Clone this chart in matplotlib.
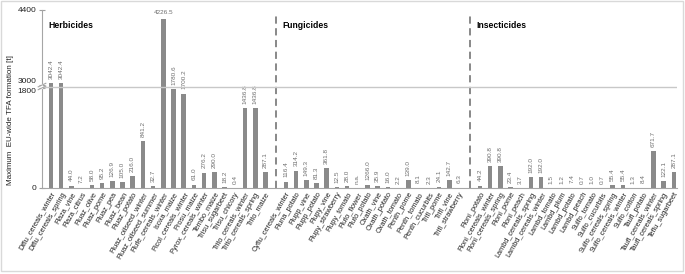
import numpy as np
import matplotlib.pyplot as plt
from matplotlib.patches import Rectangle

plt.rcParams['font.family'] = ['Liberation Sans', 'DejaVu Sans']

# data
herb_names = ['Diflu_cereals_winter', 'Diflu_cereals_spring', 'Flaza_vine', 'Flaza_citrus',
              'Fluaz_olive', 'Fluaz_pome', 'Fluaz_pea', 'Fluaz_bean', 'Fluaz_potato',
              'Fluaz_oilseed_winter', 'Fluaz_oilseed_summer', 'Flufe_cereals_winter',
              'Isoxa_maize', 'Picol_cereals_winter', 'Prosu_maize', 'Pyrox_cereals_winter',
              'Tembo_maize', 'Trisu_sugarbeet', 'Trisu_chicory', 'Trito_cereals_winter',
              'Trito_cereals_spring', 'Trito_maize']
herb_values = [3042.4, 3042.4, 44.0, 7.2, 58.0, 95.2, 126.9, 105.0, 216.0, 841.2, 32.7,
               4226.5, 1780.6, 1700.2, 61.0, 276.2, 290.0, 18.2, 0.4, 1436.8, 1436.8, 287.1]

fung_names = ['Cyflu_cereals_winter', 'Fluna_potato', 'Flupp_vine', 'Flupp_potato',
              'Flupy_vine', 'Flupy_strawberry', 'Flupy_tomato', 'Fluto_flower',
              'Fluto_potato', 'Oxath_vine', 'Oxath_potato', 'Oxath_tomato', 'Penth_pome',
              'Penth_tomato', 'Penth_cucurbits', 'Trifl_pome', 'Trifl_vine', 'Trifl_strawberry']
fung_values = [116.4, 314.2, 149.3, 81.3, 361.8, 12.5, 28.0, 0.0, 60.0, 35.9, 16.0, 2.2,
               139.0, 8.1, 2.3, 24.1, 142.7, 6.3]

ins_names = ['Floni_potato', 'Floni_cereals_winter', 'Floni_cereals_spring', 'Floni_pome',
             'Floni_peach', 'Lambd_cereals_spring', 'Lambd_cereals_winter', 'Lambd_tomato',
             'Lambd_plum', 'Lambd_potato', 'Lambd_peach', 'Sulfo_tomato', 'Sulfo_cucurbits',
             'Sulfo_cereals_spring', 'Sulfo_cereals_winter', 'Sulfo_cotton', 'Taufl_potato',
             'Taufl_cereals_winter', 'Taufl_cereals_spring', 'Teflu_sugarbeet']
ins_values = [44.2, 390.8, 390.8, 23.4, 3.7, 192.0, 192.0, 1.5, 1.2, 7.4, 0.7, 1.0, 0.7,
              55.4, 55.4, 1.3, 8.4, 671.7, 122.1, 287.1]

# labels that differ from the bar value as printed on the original
label_override = {'Fluto_flower': 'n.a.', 'Fluto_potato': '1266.0'}

groups = ['Herbicides', 'Fungicides', 'Insecticides']
ytick_vals = [0, 1800, 3000, 4400]


# broken y axis: 0-1800 and 3000-4400 with a small gap
def fwd(v):
    v = np.asarray(v, dtype=float)
    return np.where(v <= 1800, v / 18.0,
                    np.where(v <= 3000, 100 + (v - 1800) / 400.0,
                             103 + (v - 3000) * 75.0 / 1400.0))


def inv(p):
    p = np.asarray(p, dtype=float)
    return np.where(p <= 100, p * 18.0,
                    np.where(p <= 103, 1800 + (p - 100) * 400.0,
                             3000 + (p - 103) * 1400.0 / 75.0))


names = herb_names + [''] + fung_names + [''] + ins_names
values = herb_values + [None] + fung_values + [None] + ins_values
xpos = np.arange(len(names))
bar_x = [x for x, v in zip(xpos, values) if v is not None]
bar_v = [v for v in values if v is not None]
bar_n = [n for n, v in zip(names, values) if v is not None]

fig = plt.figure(figsize=(6.85, 2.74), dpi=100)
ax = fig.add_axes([42 / 685, 1 - 188 / 274, 635 / 685, 178 / 274])
ax.set_yscale('function', functions=(fwd, inv))

ax.bar(bar_x, bar_v, width=0.45, color='#8a8a8a', zorder=2)

for x, v, n in zip(bar_x, bar_v, bar_n):
    txt = label_override.get(n, f'{v:.1f}')
    if v > 4000:
        ax.annotate(txt, (x, v), xytext=(0, 3), textcoords='offset points',
                    ha='center', va='bottom', fontsize=4.6, color='#6e6e6e')
    else:
        ax.annotate(txt, (x, v), xytext=(0, 3), textcoords='offset points',
                    rotation=90, ha='center', va='bottom', fontsize=4.6, color='#6e6e6e')

ax.set_xlim(-0.88, 61.3)
ax.set_ylim(0, 4400)
ax.set_yticks(ytick_vals)
ax.set_yticklabels([str(t) for t in ytick_vals], fontsize=6.0, color='#222222')
# keep the two labels at the break apart
for lab, t in zip(ax.get_yticklabels(), ytick_vals):
    if t == 3000:
        lab.set_va('bottom')
    elif t == 1800:
        lab.set_va('top')
ax.set_xticks(bar_x)
ax.set_xticklabels(bar_n, rotation=60, ha='right', rotation_mode='anchor',
                   fontsize=5.3, color='#222222')
ax.tick_params(axis='x', length=0, pad=2)
ax.tick_params(axis='y', length=4, direction='inout', color='#a0a0a0', pad=2)

for s in ['top', 'right']:
    ax.spines[s].set_visible(False)
ax.spines['left'].set_color('#a6a6a6')
ax.spines['bottom'].set_color('#a6a6a6')

# break line and break marks
ax.axhline(2400, color='#c8c8c8', lw=1, zorder=3)
yb = 101.5 / 178
for dy in (-0.008, 0.008):
    ax.plot([-0.006, 0.006], [yb + dy - 0.01, yb + dy + 0.01], transform=ax.transAxes,
            color='#a6a6a6', lw=0.8, clip_on=False, zorder=4)
ax.plot([0, 0], [yb - 0.008, yb + 0.008], transform=ax.transAxes,
        color='white', lw=1.5, clip_on=False, zorder=3)

# separators between groups
for xs in (22, 41):
    ax.axvline(xs, ymin=0, ymax=0.99, color='#7f7f7f', lw=1.3, ls=(0, (4, 2.5)), zorder=1)

for gx, g in zip((-0.3, 22.7, 41.7), groups):
    ax.text(gx, 0.915, g, transform=ax.get_xaxis_transform(), fontsize=6.2,
            fontweight='bold', ha='left', va='center')

ax.set_ylabel('Maximum  EU-wide TFA formation [t]', fontsize=5.8, color='#222222')
ax.yaxis.set_label_coords(-0.044, 0.38)

fig.patches.append(Rectangle((0.002, 0.01), 0.995, 0.985, transform=fig.transFigure,
                             fill=False, edgecolor='#d9d9d9', lw=1))

fig.savefig('out.png', dpi=100)
